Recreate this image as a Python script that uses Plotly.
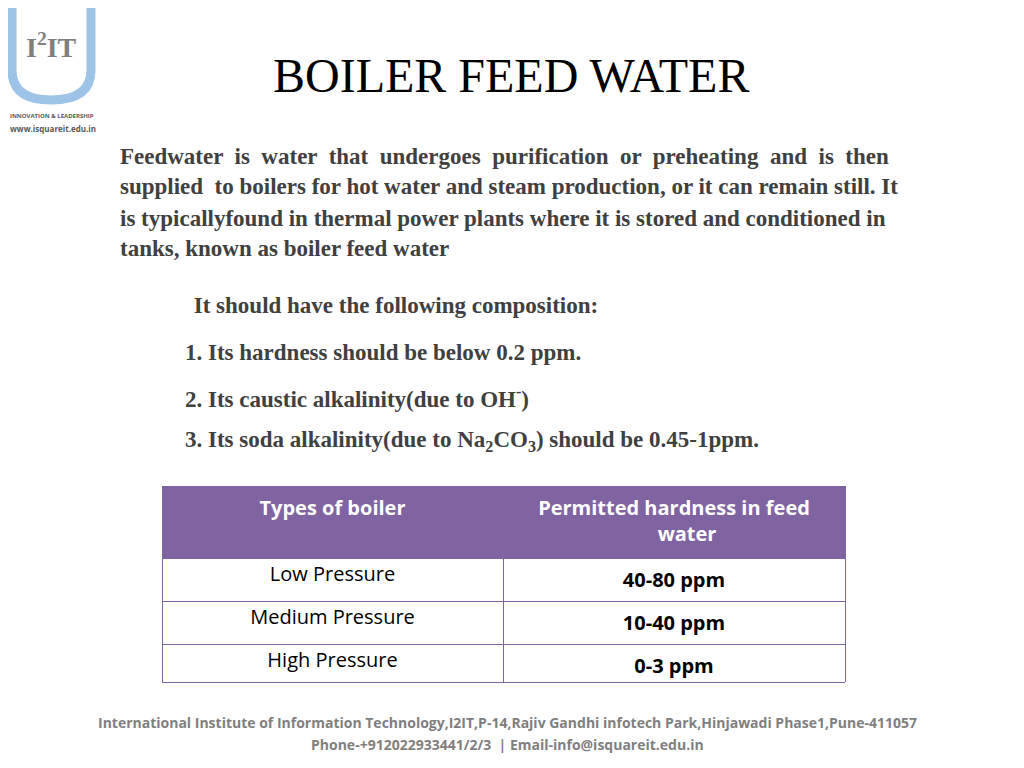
import plotly.graph_objects as go

boiler_types = ["Low Pressure", "Medium Pressure", "High Pressure"]
permitted_hardness = ["<b>40-80 ppm</b>", "<b>10-40 ppm</b>", "<b>0-3 ppm</b>"]
header_labels = ["<b>Types of boiler</b>",
                 "<b>Permitted hardness in feed<br>&nbsp;&nbsp;&nbsp;&nbsp;&nbsp;&nbsp;&nbsp;&nbsp;&nbsp;&nbsp;&nbsp;&nbsp;&nbsp;&nbsp;&nbsp;&nbsp;&nbsp;&nbsp;&nbsp;&nbsp;&nbsp;&nbsp;&nbsp;water</b>"]

paragraph_lines = [
    "Feedwater  is  water  that  undergoes  purification  or  preheating  and  is  then",
    "supplied  to boilers for hot water and steam production, or it can remain still. It",
    "is typicallyfound in thermal power plants where it is stored and conditioned in",
    "tanks, known as boiler feed water",
]
composition = [
    " It should have the following composition:",
    "1. Its hardness should be below 0.2 ppm.",
    "2. Its caustic alkalinity(due to OH<sup>-</sup>)",
    "3. Its soda alkalinity(due to Na<sub>2</sub>CO<sub>3</sub>) should be 0.45-1ppm.",
]

W, H = 1024, 768
OX, OY = 8, 8  # page offset

def px(x): return (x - OX) / W
def py(y): return 1 - (y - OY) / H

fig = go.Figure()
fig.add_trace(go.Table(
    domain=dict(x=[px(162), px(845)], y=[py(683), py(486)]),
    columnwidth=[341, 342],
    header=dict(values=header_labels, fill_color="#8064a2",
                font=dict(family="Open Sans", size=20, color="white"),
                line=dict(color="#8064a2", width=1), height=72, align="center"),
    cells=dict(values=[boiler_types, permitted_hardness], fill_color="white",
               font=dict(family="Open Sans", size=20, color="black"),
               line=dict(color="#8064a2", width=1), height=41.5, align="center"),
))
fig.add_shape(type="line", xref="paper", yref="paper", x0=px(162), x1=px(845),
              y0=py(682.5), y1=py(682.5), line=dict(color="#8064a2", width=1))

def txt(x, y, s, size, color="#404040", family="Liberation Serif", anchor="left", bold=False):
    fig.add_annotation(x=px(x), y=py(y), xref="paper", yref="paper", text=("<b>%s</b>" % s) if bold else s,
                       showarrow=False, xanchor=anchor, yanchor="middle",
                       font=dict(family=family, size=size, color=color))

txt(511, 75, "BOILER FEED WATER", 48, color="black", anchor="center")
for i, line in enumerate(paragraph_lines):
    txt(118, 156 + i*31, line, 23, bold=True)
ys = [306, 352, 397, 441]
xs = [186, 183, 183, 183]
for x, y, s in zip(xs, ys, composition):
    txt(x, y, s, 23, bold=True)

txt(507, 722, "International Institute of Information Technology,I2IT,P-14,Rajiv Gandhi infotech Park,Hinjawadi Phase1,Pune-411057",
    14, color="#7f7f7f", family="Open Sans", anchor="center", bold=True)
txt(507, 744, "Phone-+912022933441/2/3  | Email-info@isquareit.edu.in", 14, color="#7f7f7f",
    family="Open Sans", anchor="center", bold=True)

# logo
fig.add_shape(type="path", xref="paper", yref="paper",
              path="M %f %f L %f %f Q %f %f %f %f Q %f %f %f %f L %f %f" % (
                  px(12), py(5), px(12), py(70), px(12), py(100), px(51), py(100),
                  px(91), py(100), px(91), py(70), px(91), py(5)),
              line=dict(color="#9dc3e6", width=9))
txt(51, 45, "I<sup>2</sup>IT", 28, color="#7f7f7f", family="Liberation Serif", anchor="center", bold=True)
txt(8, 116, "INNOVATION & LEADERSHIP", 6, color="#595959", family="Open Sans", bold=True)
txt(8, 128, "www.isquareit.edu.in", 8, color="#595959", family="Open Sans", bold=True)

fig.update_layout(width=W, height=H, margin=dict(l=0, r=0, t=0, b=0),
                  paper_bgcolor="white", plot_bgcolor="white")
fig.write_html("out.html")
